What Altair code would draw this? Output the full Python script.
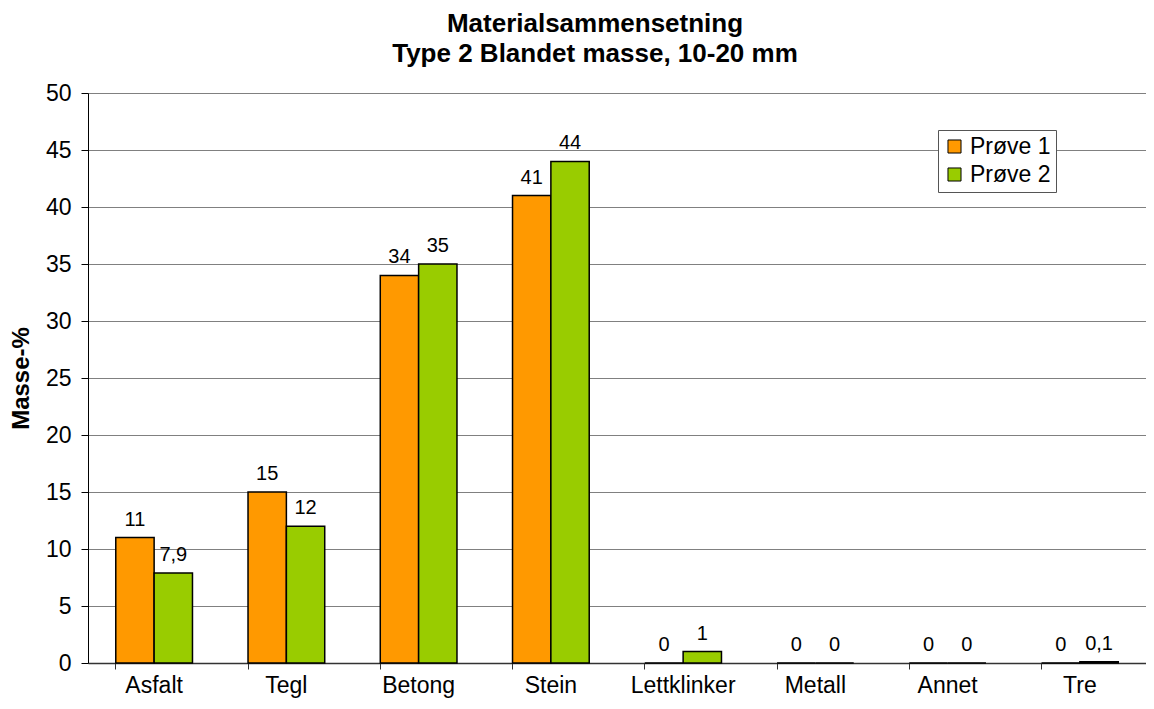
import altair as alt
import pandas as pd

categories = ["Asfalt", "Tegl", "Betong", "Stein", "Lettklinker", "Metall", "Annet", "Tre"]
series_names = ["Prøve 1", "Prøve 2"]
prove1 = [11, 15, 34, 41, 0, 0, 0, 0]
prove2 = [7.9, 12, 35, 44, 1, 0, 0, 0.1]
colors = ["#FF9900", "#99CC00"]
y_ticks = [0, 5, 10, 15, 20, 25, 30, 35, 40, 45, 50]


def fmt(v):
    if float(v).is_integer():
        return str(int(v))
    return str(v).replace(".", ",")


rows = []
for name, vals in zip(series_names, [prove1, prove2]):
    for c, v in zip(categories, vals):
        rows.append({"Kategori": c, "Serie": name, "Verdi": v, "Etikett": fmt(v)})
df = pd.DataFrame(rows)

FONT = "Liberation Sans"

x = alt.X(
    "Kategori:N",
    sort=categories,
    scale=alt.Scale(paddingInner=0.42, paddingOuter=0.21),
    axis=alt.Axis(
        title=None,
        labelAngle=0,
        labelFontSize=23,
        labelFont=FONT,
        labelColor="black",
        labelBaseline="alphabetic",
        labelPadding=23,
        tickSize=6,
        tickColor="#333333",
        bandPosition=0,
        domainColor="#333333",
        domainWidth=1.5,
        grid=False,
    ),
)
y = alt.Y(
    "Verdi:Q",
    scale=alt.Scale(domain=[0, 50], nice=False),
    axis=alt.Axis(
        title="Masse-%",
        titleFont=FONT,
        titleFontSize=24,
        titleFontWeight="bold",
        titleColor="black",
        titlePadding=12,
        values=y_ticks,
        labelFontSize=23,
        labelFont=FONT,
        labelColor="black",
        labelPadding=10,
        tickSize=7,
        tickColor="black",
        domainColor="black",
        domainWidth=1,
        grid=True,
        gridColor="#808080",
        gridWidth=1,
    ),
)

color = alt.Color(
    "Serie:N",
    scale=alt.Scale(domain=series_names, range=colors),
    legend=alt.Legend(
        title=None,
        orient="none",
        legendX=850,
        legendY=37,
        labelFont=FONT,
        labelFontSize=23,
        labelColor="black",
        symbolType="square",
        symbolSize=170,
        symbolStrokeColor="black",
        symbolStrokeWidth=1,
        symbolOpacity=1,
        fillColor="white",
        strokeColor="#555555",
        padding=5,
        rowPadding=4,
        labelOffset=4,
    ),
)

bars = alt.Chart(df).mark_bar(stroke="black", strokeWidth=1.5).encode(
    x=x,
    xOffset=alt.XOffset("Serie:N", sort=series_names),
    y=y,
    color=color,
)

labels = alt.Chart(df).mark_text(
    baseline="alphabetic", dy=-12, fontSize=20, font=FONT, color="black"
).encode(
    x=alt.X("Kategori:N", sort=categories),
    xOffset=alt.XOffset("Serie:N", sort=series_names),
    y="Verdi:Q",
    text="Etikett:N",
)

chart = (
    alt.layer(bars, labels)
    .properties(
        width=1058,
        height=570,
        autosize=alt.AutoSizeParams(type="none"),
        padding={"left": 80, "top": 85, "right": 0, "bottom": 36},
        title=alt.TitleParams(
            text=["Materialsammensetning", "Type 2 Blandet masse, 10-20 mm"],
            font=FONT,
            fontSize=26,
            fontWeight="bold",
            color="black",
            anchor="middle",
            dx=-22,
            lineHeight=30,
            offset=15,
        ),
    )
    .configure_view(stroke=None)
)

chart.save("out.html", embed_options={"renderer": "svg", "actions": False})
